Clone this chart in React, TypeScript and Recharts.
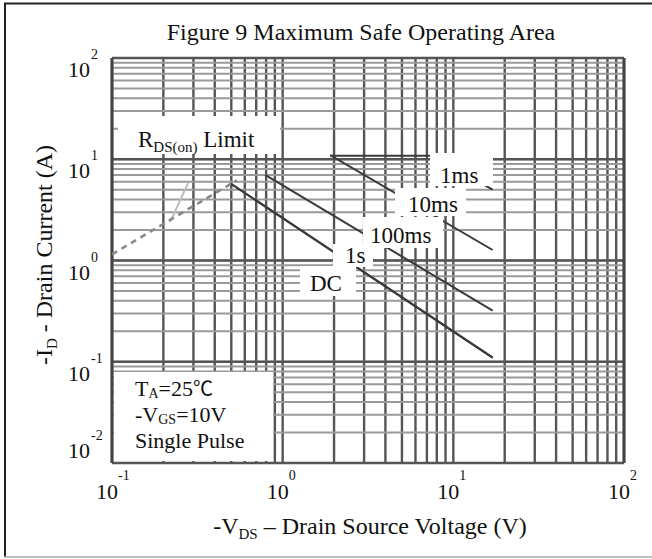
import { CartesianGrid, Line, LineChart, ReferenceLine, XAxis, YAxis } from "recharts"

// grid / tick values
const voltageGrid = [
  0.1, 0.2, 0.3, 0.4, 0.5, 0.6, 0.7, 0.8, 0.9, 1, 2, 3, 4, 5, 6, 7, 8, 9, 10, 20, 30, 40, 50, 60, 70,
  80, 90, 100,
]
const currentGrid = [
  0.01, 0.02, 0.03, 0.04, 0.05, 0.06, 0.07, 0.08, 0.09, 0.1, 0.2, 0.3, 0.4, 0.5, 0.6, 0.7, 0.8, 0.9, 1,
  2, 3, 4, 5, 6, 7, 8, 9, 10, 20, 30, 40, 50, 60, 70, 80, 90, 100,
]
const currentDecades = [0.01, 0.1, 1, 10, 100]

// series (v = -VDS in volts, i = -ID in amps)
const rdsLimit = [
  { v: 0.1, i: 1.15 },
  { v: 0.54, i: 6.2 },
]
const rdsTrace = [
  { v: 0.219, i: 2.4 },
  { v: 0.279, i: 5.8 },
]
const pulse1ms = [
  { v: 1.9, i: 10.8 },
  { v: 7.4, i: 10.8 },
  { v: 17, i: 5 },
]
const pulse10ms = [
  { v: 1.9, i: 11 },
  { v: 17, i: 1.27 },
]
const pulse100ms = [
  { v: 0.79, i: 7 },
  { v: 17, i: 0.32 },
]
const pulse1s = [
  { v: 0.5, i: 5.7 },
  { v: 17, i: 0.11 },
]
// the DC trace runs on top of the 1s trace in the figure
const dcLine = [
  { v: 0.5, i: 5.7 },
  { v: 17, i: 0.11 },
]

const FONT = '"Liberation Serif", "Times New Roman", serif'

const isDecade = (v: number) => Math.abs(Math.log10(v) - Math.round(Math.log10(v))) < 1e-6

function VoltageTick({ x, y, payload }: any) {
  const v = payload.value
  if (!isDecade(v)) return <g />
  const exp = Math.round(Math.log10(v))
  return (
    <g fontFamily={FONT} fill="#111">
      <text x={x - 5} y={y + 36} textAnchor="middle" fontSize={22}>
        10
      </text>
      <text x={x + 6} y={y + 17} fontSize={14}>
        {exp}
      </text>
    </g>
  )
}

function CurrentTick({ x, y, payload }: any) {
  const v = payload.value
  if (!isDecade(v)) return <g />
  const exp = Math.round(Math.log10(v))
  const base = v === currentGrid[0] ? y - 5 : y + 19
  return (
    <g fontFamily={FONT} fill="#111">
      <text x={x - 22} y={base} textAnchor="end" fontSize={22}>
        10
      </text>
      <text x={x - 21} y={base - 18} fontSize={14}>
        {exp}
      </text>
    </g>
  )
}

function Box({ x, y, w, h }: { x: number; y: number; w: number; h: number }) {
  return <rect x={x} y={y} width={w} height={h} fill="#fff" />
}

export default function App() {
  const series = { stroke: "#3a3a3a", strokeWidth: 2, dot: false, isAnimationActive: false } as const
  return (
    <div style={{ position: "absolute", left: 0, top: 0, width: 652, height: 559, background: "#fff" }}>
      <LineChart width={652} height={559} margin={{ top: 58, right: 28, bottom: 0, left: 0 }}>
        <CartesianGrid horizontal={false} stroke="#555" strokeWidth={2.4} />
        <CartesianGrid vertical={false} stroke="#9a9a9a" strokeWidth={2} />
        {currentDecades.map((d) => (
          <ReferenceLine key={d} y={d} stroke="#555" strokeWidth={2.4} />
        ))}
        <ReferenceLine x={0.1} stroke="#444" strokeWidth={3} />
        <ReferenceLine x={100} stroke="#444" strokeWidth={3} />
        <XAxis
          dataKey="v"
          type="number"
          scale="log"
          domain={[0.1, 100]}
          ticks={voltageGrid}
          interval={0}
          height={96}
          tickSize={0}
          tickMargin={0}
          axisLine={false}
          tickLine={false}
          allowDataOverflow
          tick={(p: any) => <VoltageTick {...p} />}
        />
        <YAxis
          dataKey="i"
          type="number"
          scale="log"
          domain={[0.01, 100]}
          ticks={currentGrid}
          interval={0}
          width={112}
          tickSize={0}
          tickMargin={0}
          axisLine={false}
          tickLine={false}
          allowDataOverflow
          tick={(p: any) => <CurrentTick {...p} />}
        />
        <Line data={rdsTrace} dataKey="i" type="linear" {...series} stroke="#bdbdbd" />
        <Line data={rdsLimit} dataKey="i" type="linear" {...series} stroke="#8a8a8a" strokeWidth={2.6} strokeDasharray="6 5" />
        <Line data={pulse1ms} dataKey="i" type="linear" {...series} />
        <Line data={pulse10ms} dataKey="i" type="linear" {...series} />
        <Line data={pulse100ms} dataKey="i" type="linear" {...series} />
        <Line data={dcLine} dataKey="i" type="linear" {...series} />
        <Line data={pulse1s} dataKey="i" type="linear" {...series} />
      </LineChart>

      <svg
        width={652}
        height={559}
        style={{ position: "absolute", left: 0, top: 0, pointerEvents: "none" }}
        fontFamily={FONT}
        fill="#111"
      >
        <line x1={4} y1={3.5} x2={652} y2={3.5} stroke="#222" strokeWidth={2} />
        <line x1={5} y1={3} x2={5} y2={557} stroke="#222" strokeWidth={2} />
        <line x1={4} y1={557} x2={652} y2={557} stroke="#aaa" strokeWidth={1.5} />

        <text x={361} y={40} textAnchor="middle" fontSize={24}>
          Figure 9 Maximum Safe Operating Area
        </text>

        <text x={52} y={255} textAnchor="middle" fontSize={24} transform="rotate(-90 52 255)">
          -I<tspan fontSize={15} dy={5}>D</tspan>
          <tspan dy={-5}> - Drain Current (A)</tspan>
        </text>
        <text x={370} y={534} textAnchor="middle" fontSize={24}>
          -V<tspan fontSize={15} dy={5}>DS</tspan>
          <tspan dy={-5}> – Drain Source Voltage (V)</tspan>
        </text>

        <Box x={118} y={116} w={162} h={38} />
        <text x={138} y={147} fontSize={23}>
          R<tspan fontSize={15} dy={5}>DS(on)</tspan>
          <tspan dy={-5}> Limit</tspan>
        </text>

        <Box x={430} y={153} w={63} h={33} />
        <text x={440} y={183} fontSize={23}>1ms</text>
        <Box x={395} y={188} w={71} h={28} />
        <text x={408} y={212} fontSize={23}>10ms</text>
        <Box x={363} y={217} w={80} h={31} />
        <text x={370} y={243} fontSize={23}>100ms</text>
        <Box x={333} y={244} w={40} h={23} />
        <text x={345} y={263} fontSize={23}>1s</text>
        <Box x={300} y={266} w={56} h={30} />
        <text x={310} y={291} fontSize={23}>DC</text>

        <Box x={114} y={372} w={159} h={89} />
        <text x={135} y={396} fontSize={22}>
          T<tspan fontSize={14} dy={2}>A</tspan>
          <tspan dy={-2}>=25</tspan>
          <tspan fontFamily='"Noto Sans CJK SC", sans-serif' fontSize={20}>℃</tspan>
        </text>
        <text x={135} y={422} fontSize={22}>
          -V<tspan fontSize={14} dy={2}>GS</tspan>
          <tspan dy={-2}>=10V</tspan>
        </text>
        <text x={135} y={448} fontSize={22}>Single Pulse</text>
      </svg>
    </div>
  )
}
